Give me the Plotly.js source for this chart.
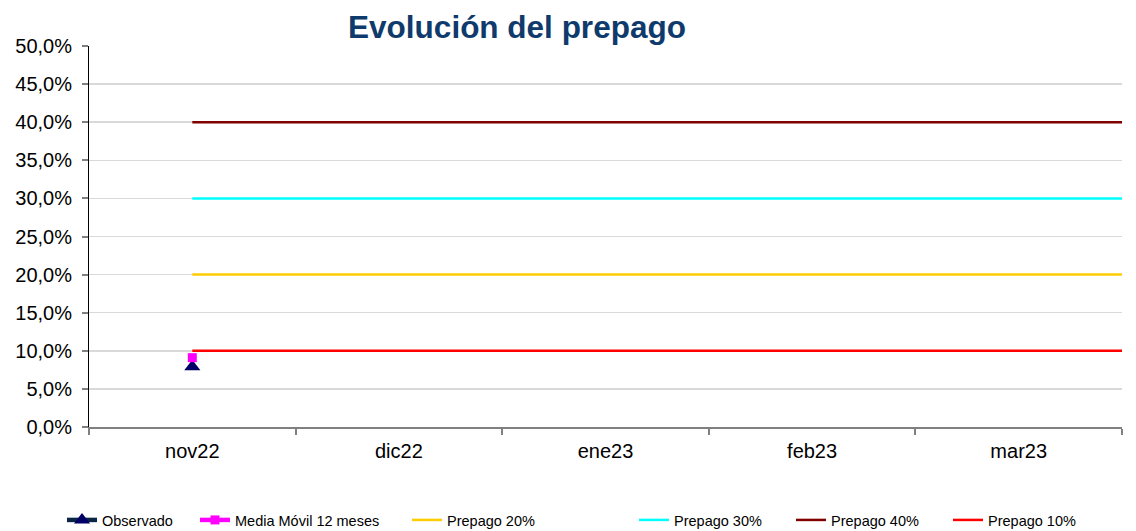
<!DOCTYPE html>
<html>
<head>
<meta charset="utf-8">
<script src="https://cdn.plot.ly/plotly-3.0.1.min.js"></script>
<style>
html,body{margin:0;padding:0;background:#fff;}
#chart{width:1136px;height:531px;}
</style>
</head>
<body>
<div id="chart"></div>
<script>
// ---- data ----
const categories = ['nov22', 'dic22', 'ene23', 'feb23', 'mar23'];
const observado = [0.079, null, null, null, null];
const mediaMovil = [0.091, null, null, null, null];
const prepago20 = [0.20, 0.20, 0.20, 0.20, 0.20];
const prepago30 = [0.30, 0.30, 0.30, 0.30, 0.30];
const prepago40 = [0.40, 0.40, 0.40, 0.40, 0.40];
const prepago10 = [0.10, 0.10, 0.10, 0.10, 0.10];
const yTicks = [0, 0.05, 0.10, 0.15, 0.20, 0.25, 0.30, 0.35, 0.40, 0.45, 0.50];

// ---- build ----
const idx = categories.map((c, i) => i);
const edge = categories.length - 0.5; // right edge of the category axis
// constant reference lines run on to the right edge of the plot area
const lineX = idx.concat([edge]);
const extend = arr => arr.concat([arr[arr.length - 1]]);

const font = 'Liberation Sans, Arial, sans-serif';

const traces = [
  {name: 'Observado', legend: 'legend', x: idx, y: observado, mode: 'lines+markers',
   line: {color: '#0B2547', width: 4.5}, marker: {symbol: 'triangle-up', size: 14, color: '#000066'}},
  {name: 'Media Móvil 12 meses', legend: 'legend2', x: idx, y: mediaMovil, mode: 'lines+markers',
   line: {color: '#FF00FF', width: 4.5}, marker: {symbol: 'square', size: 9, color: '#FF00FF'}},
  {name: 'Prepago 20%', legend: 'legend3', x: lineX, y: extend(prepago20), mode: 'lines',
   line: {color: '#FFCC00', width: 2.5}},
  {name: 'Prepago 30%', legend: 'legend4', x: lineX, y: extend(prepago30), mode: 'lines',
   line: {color: '#00FFFF', width: 2.5}},
  {name: 'Prepago 40%', legend: 'legend5', x: lineX, y: extend(prepago40), mode: 'lines',
   line: {color: '#800000', width: 2.5}},
  {name: 'Prepago 10%', legend: 'legend6', x: lineX, y: extend(prepago10), mode: 'lines',
   line: {color: '#FF0000', width: 2.5}}
];

const boundaries = [];
for (let i = 0; i <= categories.length; i++) boundaries.push(i - 0.5);

// legend text start positions (px) in the reference
const legendTextPx = [102, 235, 447, 674, 831, 988];
const mkLegend = px => ({
  orientation: 'h', xref: 'container', yref: 'container',
  x: (px - 40) / 1136, xanchor: 'left', y: 11 / 531, yanchor: 'middle',
  font: {size: 14.5}, itemwidth: 30, bgcolor: 'rgba(0,0,0,0)', borderwidth: 0
});

const layout = {
  width: 1136, height: 531,
  margin: {l: 89, r: 14, t: 46, b: 104},
  paper_bgcolor: '#fff', plot_bgcolor: '#fff',
  separators: ',.',
  font: {family: font, size: 20, color: '#000'},
  title: {text: '<b>Evolución del prepago</b>', font: {family: font, size: 31.5, color: '#0F3A6C'},
          x: 517 / 1136, xref: 'container', xanchor: 'center', y: 1 - 27 / 531, yref: 'container', yanchor: 'middle'},
  xaxis: {
    range: [-0.5, edge], tickvals: idx, ticktext: categories, ticks: '',
    showgrid: false, zeroline: false, showline: true, linecolor: '#808080', linewidth: 2,
    tickfont: {size: 20}, fixedrange: true, automargin: false, ticklabelstandoff: 5,
    minor: {tickvals: boundaries, ticks: 'outside', ticklen: 6, tickcolor: '#808080', tickwidth: 2, showgrid: false}
  },
  yaxis: {
    range: [0, 0.5], tickvals: yTicks, tickformat: '.1%', ticks: 'outside', ticklen: 6,
    tickcolor: '#808080', tickwidth: 2, showline: true, linecolor: '#000', linewidth: 1,
    showgrid: true, gridcolor: '#D9D9D9', gridwidth: 1.5, zeroline: false,
    tickfont: {size: 20}, fixedrange: true, automargin: false, ticklabelstandoff: 6
  },
  showlegend: true,
  legend: mkLegend(legendTextPx[0]),
  legend2: mkLegend(legendTextPx[1]),
  legend3: mkLegend(legendTextPx[2]),
  legend4: mkLegend(legendTextPx[3]),
  legend5: mkLegend(legendTextPx[4]),
  legend6: mkLegend(legendTextPx[5])
};

Plotly.newPlot('chart', traces, layout, {displayModeBar: false, staticPlot: true});
</script>
</body>
</html>
